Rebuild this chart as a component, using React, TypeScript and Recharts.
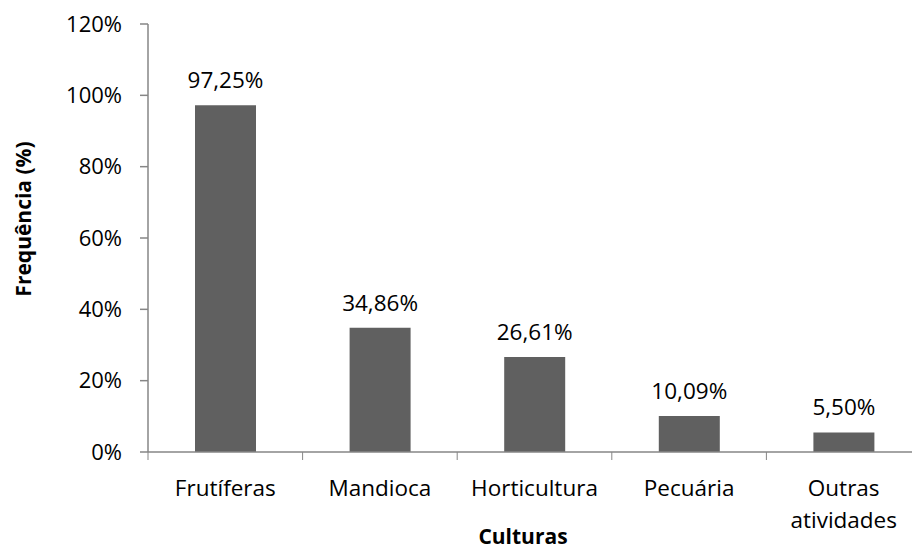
import React from 'react';
import { BarChart, Bar, XAxis, YAxis, LabelList } from 'recharts';

// Frequência das culturas praticadas
const categories = ['Frutíferas', 'Mandioca', 'Horticultura', 'Pecuária', 'Outras atividades'];
const frequencies = [97.25, 34.86, 26.61, 10.09, 5.5];
const yTicks = [0, 20, 40, 60, 80, 100, 120];

const data = categories.map((name, i) => ({ name, value: frequencies[i] }));

const FONT = '"Open Sans", sans-serif';
const AXIS = '#868686';
const BAR = '#606060';

const fmtPct = (v: number) => `${v.toFixed(2).replace('.', ',')}%`;

// Category tick: label (wrapped when long) plus a tick mark on the left band edge
const CategoryTick = (props: any) => {
  const { x, y, payload, width, visibleTicksCount, index } = props;
  const band =
    typeof width === 'number' && visibleTicksCount
      ? width / visibleTicksCount
      : (payload.offset ?? 0) * 2;
  const text: string = String(payload.value);
  const lines = text.length > 12 ? text.split(' ') : [text];
  const left = x - band / 2;
  const right = x + band / 2;
  return (
    <g>
      <line x1={left} x2={left} y1={y - 8} y2={y} stroke={AXIS} strokeWidth={1} />
      {index === visibleTicksCount - 1 && (
        <line x1={right} x2={right} y1={y - 8} y2={y} stroke={AXIS} strokeWidth={1} />
      )}
      <text
        x={x}
        y={y + 27}
        textAnchor="middle"
        dominantBaseline="central"
        fontFamily={FONT}
        fontSize={22.5}
        fill="#000"
      >
        {lines.map((l, i) => (
          <tspan key={i} x={x} dy={i === 0 ? 0 : 32}>
            {l}
          </tspan>
        ))}
      </text>
    </g>
  );
};

export default function App() {
  return (
    <div
      style={{
        position: 'absolute',
        left: 0,
        top: 0,
        width: 912,
        height: 550,
        overflow: 'hidden',
        background: '#fff',
      }}
    >
      <BarChart
        width={930}
        height={550}
        data={data}
        margin={{ top: 24, right: 9, bottom: 0, left: 0 }}
      >
        <XAxis
          dataKey="name"
          height={98}
          axisLine={{ stroke: AXIS, strokeWidth: 1.5 }}
          tickLine={false}
          tickSize={8}
          tickMargin={0}
          interval={0}
          tick={<CategoryTick />}
          label={{
            content: () => (
              <text
                x={523}
                y={536}
                textAnchor="middle"
                dominantBaseline="central"
                fontFamily={FONT}
                fontWeight="bold"
                fontSize={21}
                fill="#000"
              >
                Culturas
              </text>
            ),
          }}
        />
        <YAxis
          width={148}
          domain={[0, 120]}
          ticks={yTicks}
          interval={0}
          tickFormatter={(v: number) => `${v}%`}
          axisLine={{ stroke: AXIS, strokeWidth: 1.5 }}
          tickLine={{ stroke: AXIS, strokeWidth: 1.5 }}
          tickSize={8}
          tickMargin={18}
          tick={{ fontFamily: FONT, fontSize: 22, fill: '#000' }}
          label={{
            content: () => (
              <text
                x={23}
                y={219}
                transform="rotate(-90 23 219)"
                textAnchor="middle"
                dominantBaseline="central"
                fontFamily={FONT}
                fontWeight="bold"
                fontSize={21}
                fill="#000"
              >
                Frequência (%)
              </text>
            ),
          }}
        />
        <Bar dataKey="value" fill={BAR} barSize={61} isAnimationActive={false}>
          <LabelList
            dataKey="value"
            position="top"
            offset={17}
            formatter={(v: any) => fmtPct(Number(v))}
            style={{ fontFamily: FONT, fontSize: 22.5, fill: '#000' }}
          />
        </Bar>
      </BarChart>
    </div>
  );
}
